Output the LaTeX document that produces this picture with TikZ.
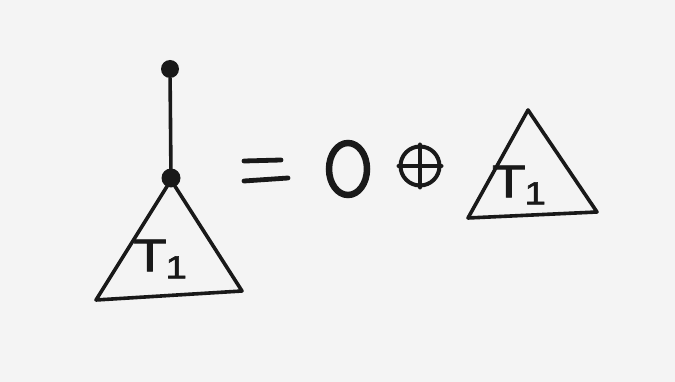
\documentclass[tikz,border=0pt]{standalone}
\usepackage{fontspec}
\newfontfamily\handfont[FakeBold=1.5]{Liberation Sans}
\usetikzlibrary{shapes.geometric}
\newcommand{\tone}{T\kern-1pt{\fontsize{32}{32}\selectfont\raisebox{-7pt}{1}}}
\begin{document}
\begin{tikzpicture}[x=1pt,y=-1pt,
  ink/.style={line width=3.6pt,line cap=round,line join=round,black!90},
  dotnode/.style={circle,fill=black!90,inner sep=0pt,minimum size=#1},
  lbl/.style={font=\fontsize{46}{46}\selectfont\handfont,text=black!90,xscale=1.2,inner sep=0pt}]
\definecolor{paper}{RGB}{244,244,244}
\fill[paper] (0,0) rectangle (675,382);
\useasboundingbox (0,0) rectangle (675,382);
% left tree
\node[dotnode=18pt] (top) at (170,69) {};
\node[dotnode=19pt] (root) at (171,178) {};
\draw[ink] (top) -- (root.center);
\coordinate (a1) at (171,180);
\coordinate (b1) at (96,300);
\coordinate (c1) at (242,291);
\draw[ink] (a1) -- (b1) -- (c1) -- cycle;
\node[lbl] (t1) at (160,259) {\tone};
% equals
\coordinate (e1) at (244,161); \coordinate (e2) at (281,160);
\coordinate (e3) at (244,181); \coordinate (e4) at (288,178);
\draw[ink,line width=4.8pt] (e1) -- (e2);
\draw[ink,line width=4.8pt] (e3) -- (e4);
% zero
\node[draw=black!90,line width=6.5pt,ellipse,minimum width=38pt,minimum height=52pt,inner sep=0pt] (zero) at (348,169) {};
% oplus
\node[draw=black!90,line width=4pt,circle,minimum size=39pt,inner sep=0pt] (op) at (420,166) {};
\draw[ink,line width=4pt] (op.north) -- (op.south);
\draw[ink,line width=4pt] (op.west) -- (op.east);
% right tree
\coordinate (a2) at (528,110);
\coordinate (b2) at (468,218);
\coordinate (c2) at (597,212);
\draw[ink] (a2) -- (b2) -- (c2) -- cycle;
\node[lbl] (t2) at (519,185) {\tone};
\end{tikzpicture}
\end{document}
